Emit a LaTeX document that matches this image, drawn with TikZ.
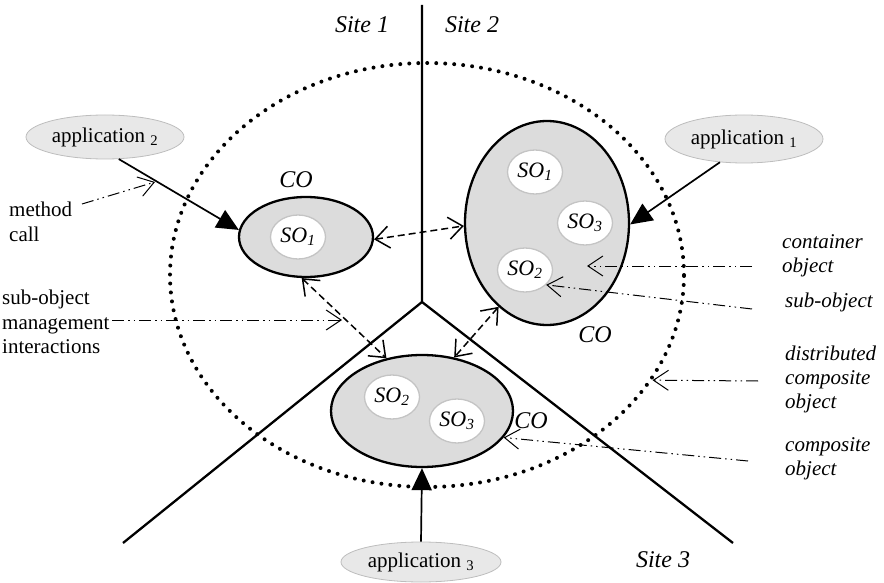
\documentclass[tikz,border=0pt]{standalone}
\usepackage{fontspec}
\setmainfont{Liberation Serif}
\usetikzlibrary{shapes.geometric,arrows.meta}
\definecolor{cogray}{HTML}{DCDCDC}
\definecolor{appfill}{HTML}{E8E8E8}
\definecolor{appborder}{HTML}{BDBDBD}
\definecolor{sogray}{HTML}{C4C4C4}
\newcommand{\soname}[1]{\textit{SO}\textsubscript{\textit{#1}}}
\tikzset{
  plain/.style={font=\fontsize{21}{24.5}\selectfont, align=left, inner sep=0},
  lab/.style={font=\fontsize{21}{24}\selectfont\itshape, align=left, inner sep=0},
  colab/.style={font=\fontsize{24}{24}\selectfont\itshape, inner sep=0},
  sitelab/.style={font=\fontsize{24}{24}\selectfont\itshape, inner sep=0},
  coell/.style={ellipse, draw, line width=2.3pt, fill=cogray, inner sep=0},
  soell/.style={ellipse, draw=sogray, line width=1.3pt, fill=white, inner sep=0,
    minimum width=55pt, minimum height=44pt, font=\fontsize{22}{22}\selectfont},
  appell/.style={ellipse, draw=appborder, line width=0.8pt, fill=appfill, inner sep=0,
    font=\fontsize{21}{21}\selectfont},
  dotell/.style={ellipse, draw, line width=4pt, line cap=round,
    dash pattern=on 0pt off 9pt, inner sep=0, minimum width=514pt, minimum height=424pt},
  siteline/.style={line width=2.3pt},
  apparrow/.style={line width=1.7pt, -{Triangle[length=22pt,width=20pt]}},
  interarrow/.style={line width=1.5pt, dash pattern=on 7pt off 4pt,
    {Straight Barb[length=14pt,width=22pt]}-{Straight Barb[length=14pt,width=22pt]}},
  note/.style={line width=1pt, dash pattern=on 12pt off 4pt on 1.5pt off 4pt on 1.5pt off 4pt,
    -{Straight Barb[length=15pt,width=20pt]}},
}
\begin{document}
\begin{tikzpicture}[x=1pt,y=-1pt]
\useasboundingbox (0,0) rectangle (884,583);
% distributed composite object
\node[dotell] (dco) at (427,275) {};
% site boundaries
\coordinate (vtx) at (422,302);
\coordinate (stop) at (422,5);
\coordinate (sl) at (123,543);
\coordinate (sr) at (733,543);
\draw[siteline] (stop) -- (vtx) -- (sl) (vtx) -- (sr);
\node[sitelab] (site1) at (362,25) {Site 1};
\node[sitelab] (site2) at (472,25) {Site 2};
\node[sitelab] (site3) at (663,560) {Site 3};
% container objects
\node[coell, minimum width=134pt, minimum height=80pt] (coL) at (306,237) {};
\node[coell, minimum width=164pt, minimum height=204pt] (coR) at (547,223) {};
\node[coell, minimum width=182pt, minimum height=112pt] (coB) at (422,411) {};
\node[colab] (coLl) at (296,180) {CO};
\node[colab] (coRl) at (595,335) {CO};
\node[colab] (coBl) at (531,421) {CO};
% sub-objects
\node[soell] (so1L) at (298,237) {\soname{1}};
\node[soell] (so1R) at (535,172) {\soname{1}};
\node[soell] (so3R) at (585,223) {\soname{3}};
\node[soell] (so2R) at (525,270) {\soname{2}};
\node[soell] (so2B) at (392,397) {\soname{2}};
\node[soell] (so3B) at (457,421) {\soname{3}};
% applications
\node[appell, minimum width=158pt, minimum height=44pt] (app2) at (105,137) {application \textsubscript{2}};
\node[appell, minimum width=158pt, minimum height=48pt] (app1) at (744,139) {application \textsubscript{1}};
\node[appell, minimum width=160pt, minimum height=40pt] (app3) at (421,562) {application \textsubscript{3}};
\draw[apparrow] (app2.-58) -- (coL.174);
\draw[apparrow] (app1.-136) -- (coR.-1);
\draw[apparrow] (app3.north) -- (coB.south);
% interactions
\draw[interarrow] (coL.-2.6) -- (coR.182);
\draw[interarrow] (coL.-96) -- (coB.124.5);
\draw[interarrow] (coR.240) -- (coB.59.7);
% left annotations
\node[plain, anchor=west] (mc) at (9,222) {method\\call};
\coordinate (mcs) at (82,204);
\coordinate (mct) at (155,182);
\draw[note] (mcs) -- (mct);
\node[plain, anchor=west] (som) at (2,322) {sub-object\\management\\interactions};
\coordinate (soms) at (112,320);
\coordinate (somt) at (342,320);
\draw[note] (soms) -- (somt);
% right annotations
\node[lab, anchor=west] (lcont) at (782,256) {container\\object};
\node[lab, anchor=west] (lsub) at (785,302) {sub-object};
\node[lab, anchor=west] (ldist) at (785,379) {distributed\\composite\\object};
\node[lab, anchor=west] (lcomp) at (785,459) {composite\\object};
\coordinate (conts) at (752,266);
\coordinate (contt) at (587,266);
\draw[note] (conts) -- (contt);
\coordinate (subs) at (752,309);
\draw[note] (subs) -- (so2R.-35);
\coordinate (dists) at (758,381);
\draw[note] (dists) -- (dco.-25.4);
\coordinate (comps) at (748,461);
\draw[note] (comps) -- (coB.-18);
\end{tikzpicture}
\end{document}
